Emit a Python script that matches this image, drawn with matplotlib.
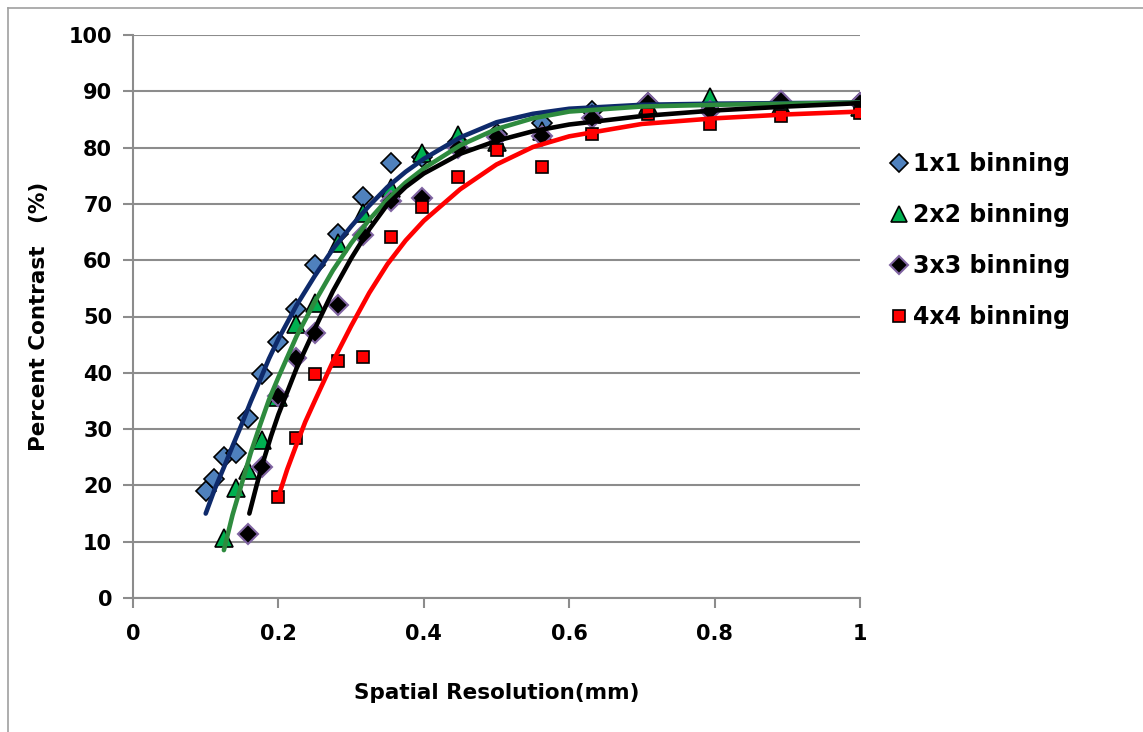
import matplotlib
matplotlib.use("Agg")
import matplotlib.pyplot as plt
from matplotlib.lines import Line2D

plt.rcParams['font.family'] = ['DejaVu Sans']
plt.rcParams['font.weight'] = 'bold'

# measured points (spatial resolution mm -> percent contrast)
x_1x1 = [0.100, 0.112, 0.125, 0.141, 0.158, 0.178, 0.200, 0.224, 0.251, 0.282, 0.316,
         0.355, 0.398, 0.447, 0.501, 0.562, 0.631, 0.708, 0.794, 0.891, 1.000]
y_1x1 = [19.0, 21.1, 25.0, 25.8, 32.0, 39.8, 45.5, 51.3, 59.1, 64.7, 71.2,
         77.2, 78.3, 81.0, 82.5, 84.3, 86.5, 88.0, 87.5, 88.0, 88.0]

x_2x2 = [0.125, 0.141, 0.158, 0.178, 0.200, 0.224, 0.251, 0.282, 0.316, 0.355,
         0.398, 0.447, 0.501, 0.562, 0.631, 0.708, 0.794, 0.891, 1.000]
y_2x2 = [10.7, 19.5, 22.7, 28.0, 35.7, 48.7, 52.4, 63.0, 68.4, 72.8,
         79.0, 82.2, 81.0, 83.0, 86.0, 87.5, 89.0, 87.5, 87.3]

x_3x3 = [0.158, 0.178, 0.200, 0.224, 0.251, 0.282, 0.316, 0.355, 0.398, 0.447,
         0.501, 0.562, 0.631, 0.708, 0.794, 0.891, 1.000]
y_3x3 = [11.4, 23.3, 35.9, 42.6, 47.1, 52.0, 64.5, 70.5, 71.0, 80.0,
         81.9, 82.0, 85.2, 88.0, 86.5, 88.2, 88.0]

x_4x4 = [0.200, 0.224, 0.251, 0.282, 0.316, 0.355, 0.398, 0.447, 0.501, 0.562,
         0.631, 0.708, 0.794, 0.891, 1.000]
y_4x4 = [17.9, 28.4, 39.8, 42.1, 42.8, 64.1, 69.4, 74.8, 79.6, 76.6,
         82.4, 86.0, 84.2, 85.6, 86.1]

# trendlines
tx_1x1 = [0.100, 0.112, 0.125, 0.137, 0.150, 0.162, 0.175, 0.187, 0.200, 0.225, 0.250, 0.275,
          0.300, 0.325, 0.350, 0.375, 0.400, 0.450, 0.500, 0.550, 0.600, 0.700, 0.800, 0.900, 1.000]
ty_1x1 = [15.0, 19.2, 23.2, 27.0, 31.0, 34.9, 38.8, 42.5, 46.0, 52.0, 57.2, 62.0,
          66.0, 69.7, 73.0, 75.7, 78.0, 81.8, 84.5, 86.0, 86.9, 87.6, 87.8, 87.9, 88.0]

tx_2x2 = [0.125, 0.137, 0.150, 0.162, 0.175, 0.187, 0.200, 0.225, 0.250, 0.275,
          0.300, 0.325, 0.350, 0.375, 0.400, 0.450, 0.500, 0.550, 0.600, 0.700, 0.800, 0.900, 1.000]
ty_2x2 = [8.5, 14.8, 20.5, 25.8, 30.8, 35.2, 39.2, 46.5, 52.6, 58.2,
          63.0, 67.2, 70.8, 73.8, 76.3, 80.4, 83.3, 85.2, 86.4, 87.3, 87.6, 87.8, 88.0]

tx_3x3 = [0.160, 0.170, 0.180, 0.190, 0.200, 0.225, 0.250, 0.275, 0.300, 0.325, 0.350,
          0.375, 0.400, 0.450, 0.500, 0.550, 0.600, 0.700, 0.800, 0.900, 1.000]
ty_3x3 = [15.0, 20.0, 24.6, 28.8, 32.6, 40.8, 47.8, 54.5, 60.3, 65.5, 69.9,
          73.0, 75.4, 78.9, 81.2, 82.9, 84.1, 85.6, 86.6, 87.3, 87.9]

tx_4x4 = [0.200, 0.212, 0.225, 0.237, 0.250, 0.275, 0.300, 0.325, 0.350, 0.375, 0.400, 0.450,
          0.500, 0.550, 0.600, 0.700, 0.800, 0.900, 1.000]
ty_4x4 = [18.0, 22.8, 27.3, 31.3, 35.0, 42.0, 48.3, 54.2, 59.3, 63.5, 67.0, 72.6,
          77.0, 80.1, 82.0, 84.2, 85.2, 85.9, 86.4]

labels = ['1x1 binning', '2x2 binning', '3x3 binning', '4x4 binning']

fig = plt.figure(figsize=(11.43, 7.32), dpi=100)
ax = fig.add_axes([133 / 1143, 1 - 598 / 732, (860 - 133) / 1143, (598 - 35) / 732])

grey = '#8c8c8c'
ax.plot(x_1x1, y_1x1, ls='none', marker='D', ms=10, mfc='#4F81BD', mec='black', mew=1.2, zorder=3)
ax.plot(x_2x2, y_2x2, ls='none', marker='^', ms=13, mfc='#00B050', mec='black', mew=1.2, zorder=3)
ax.plot(x_3x3, y_3x3, ls='none', marker='D', ms=10, mfc='black', mec='#8064A2', mew=1.5, zorder=3)
ax.plot(x_4x4, y_4x4, ls='none', marker='s', ms=9, mfc='#FF0000', mec='black', mew=1.2, zorder=3)

ax.plot(tx_1x1, ty_1x1, color='#0E2A6B', lw=3.3, solid_capstyle='round', zorder=4)
ax.plot(tx_2x2, ty_2x2, color='#2E8B3E', lw=3.3, solid_capstyle='round', zorder=4)
ax.plot(tx_3x3, ty_3x3, color='black', lw=3.3, solid_capstyle='round', zorder=4)
ax.plot(tx_4x4, ty_4x4, color='#FF0000', lw=3.3, solid_capstyle='round', zorder=4)

ax.set_xlim(0, 1)
ax.set_ylim(0, 100)
ax.set_xticks([0, 0.2, 0.4, 0.6, 0.8, 1])
ax.set_xticklabels(['0', '0.2', '0.4', '0.6', '0.8', '1'])
ax.set_yticks(range(0, 101, 10))
ax.yaxis.grid(True, color=grey, lw=1.5)
ax.set_axisbelow(True)
for s in ['top', 'right']:
    ax.spines[s].set_visible(False)
for s in ['left', 'bottom']:
    ax.spines[s].set_color(grey)
    ax.spines[s].set_linewidth(1.5)
ax.tick_params(axis='both', colors=grey, width=1.5, length=7, labelsize=15, labelcolor='black')
ax.tick_params(axis='x', pad=12)
ax.tick_params(axis='y', pad=8)
for t in ax.get_xticklabels() + ax.get_yticklabels():
    t.set_fontweight('bold')

ax.set_xlabel('Spatial Resolution(mm)', fontsize=15.5, fontweight='bold', labelpad=28)
ax.set_ylabel('Percent Contrast   (%)', fontsize=15.5, fontweight='bold', labelpad=14)

handles = [
    Line2D([], [], ls='none', marker='D', ms=9, mfc='#4F81BD', mec='black', mew=1.2),
    Line2D([], [], ls='none', marker='^', ms=11, mfc='#00B050', mec='black', mew=1.2),
    Line2D([], [], ls='none', marker='D', ms=9, mfc='black', mec='#8064A2', mew=1.5),
    Line2D([], [], ls='none', marker='s', ms=8, mfc='#FF0000', mec='black', mew=1.2),
]
fig.legend(handles, labels, loc='upper left', bbox_to_anchor=(878 / 1143, 1 - 140 / 732),
           frameon=False, prop={'size': 17, 'weight': 'bold'}, handlelength=0.8,
           handletextpad=0.2, labelspacing=1.15, borderpad=0)

# outer chart border
fig.add_artist(Line2D([8 / 1143, 1], [1 - 8 / 732, 1 - 8 / 732], color='#a0a0a0', lw=1.2))
fig.add_artist(Line2D([8 / 1143, 8 / 1143], [0, 1 - 8 / 732], color='#a0a0a0', lw=1.2))

fig.savefig('out.png', dpi=100)
